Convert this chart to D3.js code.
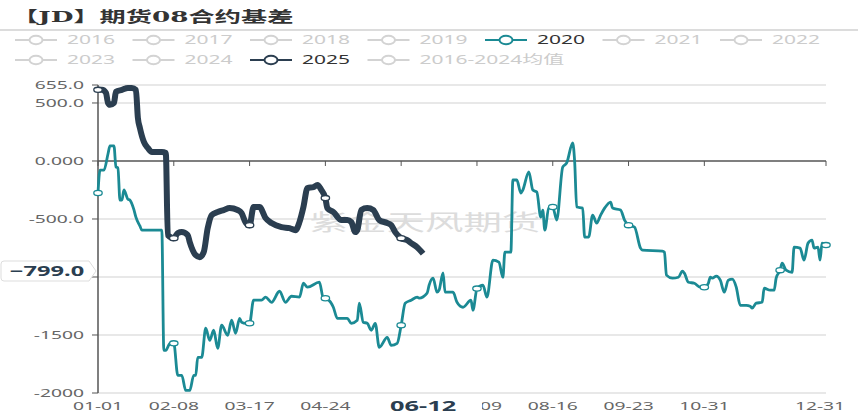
<!DOCTYPE html>
<html>
<head>
<meta charset="utf-8">
<script src="https://cdn.jsdelivr.net/npm/d3@7"></script>
<style>
  body { margin: 0; background: #fff; }
  svg { display: block; font-family: "Noto Sans", "Noto Sans CJK SC", sans-serif; }
</style>
</head>
<body>
<div id="chart"></div>
<script>
// ---- data ----
const legendNames = ['2016', '2017', '2018', '2019', '2020', '2021', '2022',
                     '2023', '2024', '2025', '2016-2024均值'];
const seriesColors = { '2020': '#1b8a94', '2025': '#2b3e50' };

const yTickVals = [655, 500, 0, -500, -1000, -1500, -2000];
const yTickLabels = ['655.0', '500.0', '0.000', '-500.0', '-1000', '-1500', '-2000'];
const xTickDays = [0, 38, 76, 114, 152, 190, 228, 266, 304, 365];
const markerDays = [0, 38, 76, 114, 152, 190, 228, 266, 304, 342, 365];

// day of year (2020 calendar) -> basis
const days2020 = [0,1,3,5,6,8,9,10,11,12,13,15,16,18,19,21,22,32,33,34,36,38,40,42,44,46,48,49,50,52,54,56,58,60,62,65,67,69,71,72,74,76,78,82,84,87,91,94,97,101,103,105,111,113,114,115,118,120,125,127,130,131,133,135,137,139,141,145,147,150,152,154,157,160,161,165,166,168,170,171,173,174,178,180,183,187,188,190,193,195,198,201,203,204,207,208,210,212,213,216,218,220,222,223,224,226,228,230,233,235,238,239,240,243,244,246,248,250,252,254,257,258,262,264,266,269,272,273,283,284,285,288,291,293,294,296,299,302,304,306,307,308,310,312,314,316,318,320,322,325,327,328,330,333,334,337,339,340,342,343,345,348,349,352,354,356,358,359,361,362,363,365];
const vals2020 = [-276,-78,-78,60,130,130,-52,-60,-337,-337,-250,-330,-337,-420,-484,-560,-596,-596,-1632,-1632,-1575,-1572,-1848,-1848,-1978,-1978,-1848,-1848,-1693,-1693,-1442,-1546,-1459,-1615,-1416,-1503,-1373,-1485,-1356,-1390,-1399,-1399,-1200,-1200,-1174,-1218,-1123,-1218,-1166,-1174,-1054,-1088,-1045,-1183,-1183,-1190,-1261,-1356,-1356,-1399,-1373,-1226,-1390,-1399,-1459,-1399,-1606,-1520,-1589,-1572,-1416,-1226,-1200,-1174,-1183,-1140,-1071,-1010,-1131,-1114,-964,-1131,-1131,-1218,-1261,-1200,-1287,-1100,-1071,-1174,-855,-872,-1002,-786,-786,-164,-164,-276,-250,-95,-250,-268,-484,-423,-596,-406,-397,-509,-52,-17,155,-10,-397,-406,-656,-656,-466,-535,-466,-406,-354,-406,-423,-509,-553,-570,-751,-769,-777,-786,-984,-1010,-1002,-950,-967,-1045,-1054,-1088,-1088,-1054,-1002,-1010,-993,-1028,-1131,-1028,-1019,-1088,-1244,-1244,-1252,-1269,-1226,-1218,-1097,-1114,-1114,-1010,-941,-881,-941,-959,-743,-751,-855,-708,-682,-751,-743,-855,-708,-725];

const days2025 = [0,2,4,5,6,8,9,12,15,17,19,20,21,23,25,27,32,34,35,38,40,42,45,46,49,51,53,55,57,60,63,66,70,72,74,76,78,81,84,87,92,96,99,101,103,105,108,110,112,114,115,118,122,125,127,129,130,132,135,138,141,145,147,149,152,155,157,160,163];
const vals2025 = [613,613,587,501,484,501,596,613,630,630,613,371,285,164,112,78,78,69,-639,-665,-622,-613,-639,-699,-812,-829,-786,-579,-466,-440,-423,-406,-423,-449,-530,-553,-397,-397,-492,-535,-570,-579,-596,-527,-397,-233,-225,-207,-250,-320,-406,-440,-509,-509,-527,-613,-596,-423,-406,-423,-509,-535,-553,-613,-665,-682,-708,-743,-799];

const pointerDay = 163, pointerValue = -799;

// ---- drawing ----
const W = 858, H = 417, SX = 1.75;   // picture is stretched sideways
const svg = d3.select('#chart').append('svg').attr('width', W).attr('height', H);

const x = d3.scaleLinear().domain([0, 365]).range([98, 826]);
const y = d3.scaleLinear().domain([-2000, 655]).range([393, 85]);
const fmtDay = d => d3.timeFormat('%m-%d')(d3.timeDay.offset(new Date(2020, 0, 1), d));

function txt(g, px, py, s, o = {}) {
  return g.append('text')
    .attr('transform', `translate(${px},${py}) scale(${SX},1)`)
    .attr('text-anchor', o.anchor || 'start')
    .attr('dy', '0.35em')
    .style('font-size', (o.size || 11) + 'px')
    .style('font-weight', o.weight || 'normal')
    .style('font-family', o.family || null)
    .attr('fill', o.fill || '#666')
    .text(s);
}

// title + rule
txt(svg, 12, 17, '【JD】期货08合约基差', { size: 15, weight: 'bold', fill: '#333',
  family: '"DejaVu Serif", "Noto Sans CJK SC", serif' });
svg.append('line').attr('x1', 0).attr('x2', W).attr('y1', 30).attr('y2', 30)
  .attr('stroke', '#d0d0d0').attr('stroke-width', 1.5);

// legend
const lg = svg.append('g');
legendNames.forEach((name, i) => {
  const col = i % 7, row = Math.floor(i / 7);
  const x0 = 15 + col * 117.5, y0 = 40 + row * 20;
  const on = seriesColors[name];
  const c = on || '#d3d3d3';
  lg.append('line').attr('x1', x0).attr('x2', x0 + 42).attr('y1', y0).attr('y2', y0)
    .attr('stroke', c).attr('stroke-width', 2);
  lg.append('ellipse').attr('cx', x0 + 21).attr('cy', y0).attr('rx', 6.5).attr('ry', 4.3)
    .attr('fill', '#fff').attr('stroke', c).attr('stroke-width', 2);
  txt(lg, x0 + 52, y0, name, { size: 12, fill: on ? '#333' : '#ccc' });
});

// grid
const grid = svg.append('g');
yTickVals.filter(v => v !== 0).forEach(v => {
  grid.append('line').attr('x1', x(0)).attr('x2', x(365)).attr('y1', y(v)).attr('y2', y(v))
    .attr('stroke', '#e0e0e0').attr('stroke-width', 1.5);
});

// watermark
txt(svg, 425, 222, '紫金天风期货', { size: 22, anchor: 'middle', fill: '#dcdcdc',
  family: '"Noto Sans CJK SC", sans-serif' });

// axis pointer label geometry
const py = 271;                       // where the y pointer label sits
const boxL = 372, boxR = 482;         // x pointer label box

// y axis
const ya = svg.append('g');
ya.append('line').attr('x1', x(0)).attr('x2', x(0)).attr('y1', y(655)).attr('y2', y(-2000))
  .attr('stroke', '#555').attr('stroke-width', 1.5);
yTickVals.forEach((v, i) => {
  ya.append('line').attr('x1', x(0) - 6).attr('x2', x(0)).attr('y1', y(v)).attr('y2', y(v))
    .attr('stroke', '#555').attr('stroke-width', 1);
  if (Math.abs(y(v) - py) > 12)      // label hidden under the pointer label
    txt(ya, 84, y(v), yTickLabels[i], { anchor: 'end', fill: '#666' });
});

// x axis on zero
svg.append('defs').append('clipPath').attr('id', 'xclip')
  .selectAll('rect').data([[0, boxL], [boxR, W]]).join('rect')
  .attr('x', d => d[0]).attr('width', d => d[1] - d[0]).attr('y', 390).attr('height', 30);
const xa = svg.append('g');
xa.append('line').attr('x1', x(0)).attr('x2', x(365)).attr('y1', y(0)).attr('y2', y(0))
  .attr('stroke', '#555').attr('stroke-width', 1.5);
const xl = xa.append('g').attr('clip-path', 'url(#xclip)');
xTickDays.forEach(d => {
  xa.append('line').attr('x1', x(d)).attr('x2', x(d)).attr('y1', y(0)).attr('y2', y(0) + 5)
    .attr('stroke', '#555').attr('stroke-width', 1);
  const cx = d === 365 ? x(d) - 6 : x(d);
  if (cx > boxL && cx < boxL + 40) return;   // fully under the pointer label
  txt(xl, cx, 406, fmtDay(d), { anchor: 'middle', fill: '#666' });
});

// series
const line = d3.line().x(d => x(d[0])).y(d => y(d[1])).curve(d3.curveMonotoneX);
function drawSeries(days, vals, color, width, markers) {
  const pts = days.map((d, i) => [d, vals[i]]);
  svg.append('path').datum(pts).attr('d', line).attr('fill', 'none')
    .attr('stroke', color).attr('stroke-width', width).attr('stroke-linejoin', 'round');
  svg.append('g').selectAll('ellipse').data(pts.filter(p => markers.includes(p[0])))
    .join('ellipse').attr('cx', p => x(p[0])).attr('cy', p => y(p[1]))
    .attr('rx', 4.2).attr('ry', 2.6).attr('fill', '#fff')
    .attr('stroke', color).attr('stroke-width', 1.3);
}
drawSeries(days2020, vals2020, seriesColors['2020'], 2.8, markerDays);
drawSeries(days2025, vals2025, seriesColors['2025'], 6, markerDays.filter(d => d <= 152));

// axis pointer labels
const pc = '#2b3e50';
txt(svg, x(pointerDay), 406, fmtDay(pointerDay), { anchor: 'middle', size: 14.5, weight: 'bold', fill: pc });

svg.append('path')
  .attr('d', `M4,${py - 10} H89 L96,${py} L89,${py + 10} H4 Q1,${py + 10} 1,${py + 7} V${py - 7} Q1,${py - 10} 4,${py - 10} Z`)
  .attr('fill', '#fff').attr('stroke', '#ddd').attr('stroke-width', 1);
txt(svg, 47, py, d3.format('.1f')(pointerValue), { anchor: 'middle', size: 13.5, weight: 'bold', fill: pc });
</script>
</body>
</html>
